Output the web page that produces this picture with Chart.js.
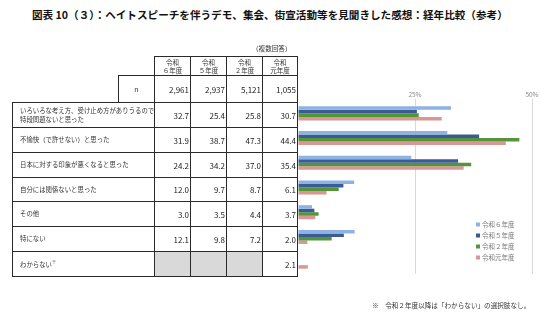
<!DOCTYPE html>
<html lang="ja">
<head>
<meta charset="utf-8">
<script src="https://cdn.jsdelivr.net/npm/chart.js@4.4.1/dist/chart.umd.min.js"></script>
<style>
  html, body { margin: 0; padding: 0; background: #fff; }
  body { width: 546px; height: 323px; position: relative; overflow: hidden; font-family: "Noto Sans CJK JP", sans-serif; color: #333; }
  #title { position: absolute; left: 32px; top: 7px; font-size: 10.6px; font-weight: bold; color: #111; white-space: nowrap; }
  #chart { position: absolute; left: 0; top: 0; }
  .cell { position: absolute; box-sizing: border-box; border: 1px solid #2a2a2a; display: flex; align-items: center; white-space: nowrap; }
  .head { justify-content: center; text-align: center; font-size: 6.5px; line-height: 8.5px; }
  .num { justify-content: flex-end; padding-right: 1px; font-size: 8px; color: #222; }
  .label { padding-left: 7px; font-size: 6.4px; line-height: 9.3px; }
  .gray { background: #d9d9d9; }
  .note { position: absolute; font-size: 6.6px; white-space: nowrap; color: #333; }
</style>
</head>
<body>
<div id="title">図表 10（３）：ヘイトスピーチを伴うデモ、集会、街宣活動等を見聞きした感想：経年比較（参考）</div>
<canvas id="chart" width="546" height="323"></canvas>
<div id="table"></div>
<div class="note" style="left:252px; top:43px;">（複数回答）</div>
<div class="note" style="left:372px; top:300px;">※　令和２年度以降は「わからない」の選択肢なし。</div>
<script>
const categories = [
  'いろいろな考え方、受け止め方がありうるので\n特段問題ないと思った',
  '不愉快（で許せない）と思った',
  '日本に対する印象が悪くなると思った',
  '自分には関係ないと思った',
  'その他',
  '特にない',
  'わからない※'
];
const seriesNames = ['令和６年度', '令和５年度', '令和２年度', '令和元年度'];
const headNames = ['令和\n６年度', '令和\n５年度', '令和\n２年度', '令和\n元年度'];
const nValues = [2961, 2937, 5121, 1055];
const r6 = [32.7, 31.9, 24.2, 12.0, 3.0, 12.1, null];
const r5 = [25.4, 38.7, 34.2, 9.7, 3.5, 9.8, null];
const r2 = [25.8, 47.3, 37.0, 8.7, 4.4, 7.2, null];
const r1 = [30.7, 44.4, 35.4, 6.1, 3.7, 2.0, 2.1];
const allSeries = [r6, r5, r2, r1];
const colors = ['#8db3e2', '#3a5b93', '#54953a', '#da9694'];
const FONT = '"Noto Sans CJK JP", sans-serif';

// table on the left
const table = document.getElementById('table');
const colX = [154, 190, 226, 262, 297];
const rowTop = 102, rowH = 24.86;

function addCell(cls, x, y, w, h, html) {
  const d = document.createElement('div');
  d.className = 'cell ' + cls;
  d.style.left = x + 'px';
  d.style.top = y + 'px';
  d.style.width = (w + 1) + 'px';
  d.style.height = (h + 1) + 'px';
  d.innerHTML = html;
  table.appendChild(d);
}

headNames.forEach((h, i) => {
  addCell('head', colX[i], 56, colX[i + 1] - colX[i], 19, h.replace('\n', '<br>'));
});
addCell('head', 118, 75, colX[0] - 118, 27, '<span style="font-size:7px">n</span>');
nValues.forEach((v, i) => {
  addCell('num', colX[i], 75, colX[i + 1] - colX[i], 27, v.toLocaleString('en-US'));
});
categories.forEach((c, r) => {
  const y = Math.round(rowTop + r * rowH);
  const h = Math.round(rowTop + (r + 1) * rowH) - y;
  const txt = c.replace('\n', '<br>').replace('※', '<sup style="font-size:4px">※</sup>');
  addCell('label', 12, y, colX[0] - 12, h, '<div>' + txt + '</div>');
  allSeries.forEach((s, i) => {
    const v = s[r];
    addCell(v === null ? 'num gray' : 'num', colX[i], y, colX[i + 1] - colX[i], h, v === null ? '' : v.toFixed(1));
  });
});

// legend drawn inside the plot, bottom right
const cornerLegend = {
  id: 'cornerLegend',
  afterDraw(chart) {
    const ctx = chart.ctx;
    const area = chart.chartArea;
    ctx.save();
    ctx.font = '6.5px ' + FONT;
    ctx.textBaseline = 'middle';
    chart.data.datasets.forEach((ds, i) => {
      const y = area.bottom - 49.5 + i * 11;
      ctx.fillStyle = ds.backgroundColor;
      ctx.fillRect(area.right - 56, y - 2, 4, 4);
      ctx.fillStyle = '#777';
      ctx.fillText(ds.label, area.right - 50, y);
    });
    ctx.restore();
  }
};

new Chart(document.getElementById('chart').getContext('2d'), {
  type: 'bar',
  data: {
    labels: categories,
    datasets: seriesNames.map((name, i) => ({
      label: name,
      data: allSeries[i],
      backgroundColor: colors[i]
    }))
  },
  options: {
    responsive: false,
    animation: false,
    indexAxis: 'y',
    layout: { padding: { left: 298, right: 14, top: 0, bottom: 49 } },
    datasets: { bar: { categoryPercentage: 0.57, barPercentage: 1 } },
    plugins: {
      legend: { display: false },
      tooltip: { enabled: false }
    },
    scales: {
      x: {
        position: 'top',
        min: 0,
        max: 50,
        afterFit: s => { s.height = 101; },
        ticks: {
          stepSize: 25,
          padding: 1,
          color: '#888',
          font: { size: 6.5, family: FONT },
          callback: v => v === 0 ? '' : v + '%'
        },
        grid: {
          color: c => (c.tick && c.tick.value === 0) ? 'rgba(0,0,0,0)' : '#d9d9d9',
          tickLength: 2
        },
        border: { display: false }
      },
      y: { display: false }
    }
  },
  plugins: [cornerLegend]
});
</script>
</body>
</html>
